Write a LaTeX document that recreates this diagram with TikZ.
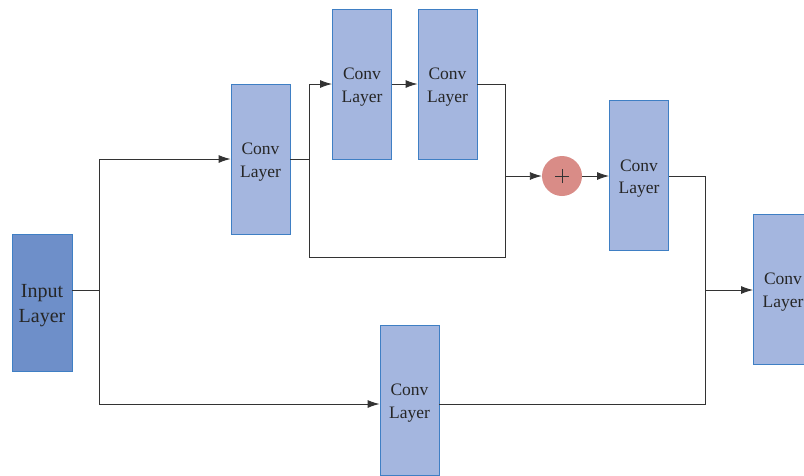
\documentclass[tikz,border=0pt]{standalone}
\usepackage{fontspec}
\setmainfont{Liberation Serif}
\usetikzlibrary{arrows.meta}
\definecolor{convfill}{HTML}{A4B6DF}
\definecolor{inpfill}{HTML}{6E8FC9}
\definecolor{boxedge}{HTML}{3F7FC4}
\definecolor{sumfill}{HTML}{D98C87}
\definecolor{wire}{HTML}{333333}
\tikzset{
  boxtext/.style={align=center, text=black!85, inner sep=0pt, yshift=-3pt},
  convbox/.style={rectangle, draw=boxedge, line width=0.9pt, fill=convfill,
    minimum width=59pt, minimum height=150pt, inner sep=0pt,
    label={[boxtext, font=\fontsize{17.5}{22.5}\selectfont]center:{Conv\\Layer}}},
  inbox/.style={rectangle, draw=boxedge, line width=0.9pt, fill=inpfill,
    minimum width=60pt, minimum height=137pt, inner sep=0pt,
    label={[boxtext, font=\fontsize{20}{25}\selectfont]center:{Input\\Layer}}},
  sumnode/.style={circle, fill=sumfill, minimum size=40pt, inner sep=0pt},
  wireline/.style={draw=wire, line width=0.9pt},
  flow/.style={wireline, -{Latex[length=12pt,width=8pt]}}
}
\begin{document}
\begin{tikzpicture}[x=1pt,y=-1pt]
\useasboundingbox (0,0) rectangle (804,475);
\begin{scope}
\clip (0,0) rectangle (804,475);
\node[inbox]   (inp) at (42,302.5)  {};
\node[convbox] (c1)  at (260.5,159) {};
\node[convbox] (c2)  at (362,84)    {};
\node[convbox] (c3)  at (447.5,84)  {};
\node[sumnode] (sum) at (562,176)   {};
\node[convbox] (c4)  at (639,175.5) {};
\node[convbox] (c5)  at (783,289)   {};
\node[convbox] (c6)  at (409.5,400) {};
\end{scope}
% plus sign in the summation node
\draw[wire, line width=0.8pt] ([xshift=-7pt]sum.center) -- ([xshift=7pt]sum.center);
\draw[wire, line width=0.8pt] ([yshift=-7pt]sum.center) -- ([yshift=7pt]sum.center);
% junction points
\coordinate (s)  at (99,290);
\coordinate (st) at (99,159);
\coordinate (sb) at (99,404);
\coordinate (b)  at (309,159);
\coordinate (bt) at (309,84);
\coordinate (bb) at (309,257);
\coordinate (rb) at (505,257);
\coordinate (rt) at (505,84);
\coordinate (rm) at (505,176);
\coordinate (m)  at (705,176);
\coordinate (mm) at (705,290);
\coordinate (mb) at (705,404);
% input split
\draw[wireline] (inp.east |- s) -- (s);
\draw[wireline] (st) -- (sb);
\draw[flow] (st) -- (c1.west |- st);
\draw[flow] (sb) -- (c6.west |- sb);
% residual block
\draw[wireline] (c1.east |- b) -- (b);
\draw[wireline] (bt) -- (bb) -- (rb) -- (rt) -- (c3.east |- rt);
\draw[flow] (bt) -- (c2.west |- bt);
\draw[flow] (c2.east |- bt) -- (c3.west |- bt);
\draw[flow] (rm) -- (sum.west);
\draw[flow] (sum.east) -- (c4.west |- sum);
% merge into the last layer
\draw[wireline] (c4.east |- m) -- (m) -- (mb) -- (c6.east |- mb);
\draw[flow] (mm) -- (c5.west |- mm);
\end{tikzpicture}
\end{document}
